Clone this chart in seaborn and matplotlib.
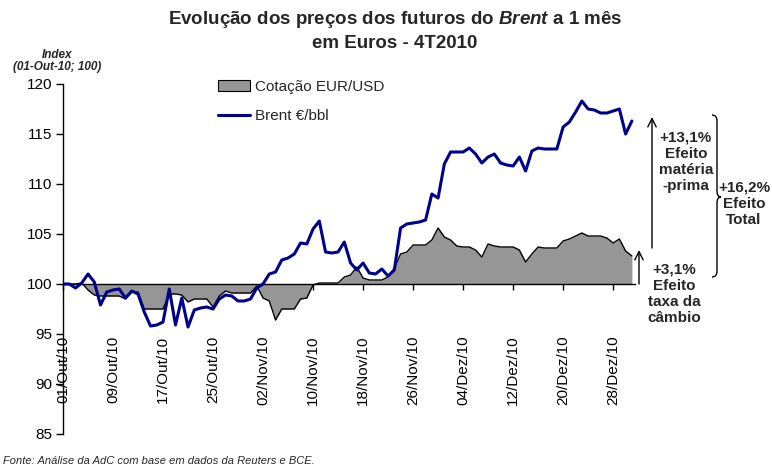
import numpy as np
import pandas as pd
import matplotlib
matplotlib.use("Agg")
import matplotlib.pyplot as plt
import seaborn as sns
from matplotlib.patches import Patch, PathPatch
from matplotlib.lines import Line2D
from matplotlib.path import Path

# ---------------- data (index, 01-Out-10 = 100), daily readings ----------------
start_date = "2010-10-01"
end_date = "2010-12-31"

brent_eur = [
    100.0, 100.0, 99.6, 100.1, 101.0, 100.2, 97.9, 99.2, 99.4, 99.5,
    98.6, 99.3, 99.0, 97.2, 95.8, 95.9, 96.2, 99.5, 95.9, 98.6,
    95.7, 97.4, 97.6, 97.7, 97.5, 98.5, 98.9, 98.8, 98.3, 98.3,
    98.5, 99.6, 100.0, 101.0, 101.2, 102.4, 102.6, 103.0, 104.1, 104.0,
    105.5, 106.3, 103.2, 103.1, 103.2, 104.2, 102.1, 101.4, 102.1, 101.1,
    101.0, 101.5, 100.8, 101.4, 105.6, 106.0, 106.1, 106.2, 106.4, 109.0,
    108.6, 112.0, 113.2, 113.2, 113.2, 113.6, 113.0, 112.1, 112.7, 113.0,
    112.1, 111.9, 111.8, 112.7, 111.3, 113.3, 113.6, 113.5, 113.5, 113.5,
    115.7, 116.2, 117.2, 118.3, 117.5, 117.4, 117.1, 117.1, 117.3, 117.5,
    115.0, 116.3,
]

eurusd_effect = [
    100.0, 100.0, 100.0, 100.1, 99.4, 98.9, 98.8, 98.8, 98.8, 98.8,
    98.5, 99.2, 99.2, 97.5, 97.5, 97.5, 97.5, 99.0, 99.0, 98.9,
    98.2, 98.5, 98.5, 98.5, 97.7, 98.8, 99.3, 99.1, 99.1, 99.1,
    99.1, 99.8, 98.6, 98.3, 96.4, 97.5, 97.5, 97.5, 98.5, 98.6,
    99.9, 100.1, 100.1, 100.1, 100.1, 100.7, 100.9, 101.7, 100.6, 100.4,
    100.4, 100.4, 100.7, 101.6, 103.0, 103.2, 103.9, 103.9, 103.9, 104.4,
    105.6, 104.7, 104.4, 103.8, 103.7, 103.7, 103.4, 102.7, 104.0, 103.8,
    103.7, 103.7, 103.7, 103.4, 102.2, 103.0, 103.7, 103.6, 103.6, 103.6,
    104.3, 104.5, 104.8, 105.1, 104.8, 104.8, 104.8, 104.6, 104.1, 104.5,
    103.3, 102.8,
]

series_names = ["Cotação EUR/USD", "Brent €/bbl"]
tick_labels = ["01/Out/10", "09/Out/10", "17/Out/10", "25/Out/10",
               "02/Nov/10", "10/Nov/10", "18/Nov/10", "26/Nov/10",
               "04/Dez/10", "12/Dez/10", "20/Dez/10", "28/Dez/10"]
y_ticks = [85, 90, 95, 100, 105, 110, 115, 120]

title_line1 = "Evolução dos preços dos futuros do $Brent$ a 1 mês"
title_line2 = "em Euros - 4T2010"
ylabel_1 = "Index"
ylabel_2 = "(01-Out-10; 100)"
source = "Fonte: Análise da AdC com base em dados da Reuters e BCE."
txt_raw = "+13,1%\nEfeito\nmatéria\n-prima"
txt_fx = "+3,1%\nEfeito\ntaxa da\ncâmbio"
txt_total = "+16,2%\nEfeito\nTotal"

# ---------------- style ----------------
sns.set_style("white")
plt.rcParams["font.family"] = ["Liberation Sans", "DejaVu Sans"]
plt.rcParams["mathtext.fontset"] = "custom"
plt.rcParams["mathtext.it"] = "Liberation Sans:italic:bold"
plt.rcParams["mathtext.rm"] = "Liberation Sans:bold"

GRAY = "#969696"
BLUE = "#00008B"
W, H = 772, 468


def fp(px, py):
    return (px / W, 1 - py / H)


fig = plt.figure(figsize=(W / 100, H / 100), dpi=100)
ax = fig.add_axes([63 / W, 1 - 434 / H, (635 - 63) / W, 350 / H])

dates = pd.date_range(start_date, end_date, freq="D")
df = pd.DataFrame({"date": dates, "brent": brent_eur, "fx": eurusd_effect})

ax.fill_between(df["date"], df["fx"], 100, color=GRAY, lw=0, zorder=1)
sns.lineplot(data=df, x="date", y="fx", color="black", linewidth=1.0, ax=ax, zorder=2)
sns.lineplot(data=df, x="date", y="brent", color=BLUE, linewidth=2.2, ax=ax, zorder=3)

ax.set_xlim(dates[0], dates[0] + pd.Timedelta(days=91.5))
ax.set_ylim(85, 120)
ax.set_yticks(y_ticks)
ax.set_xticks(dates[::8])
ax.set_xticklabels(tick_labels)
ax.set_xlabel("")
ax.set_ylabel("")

for s in ["top", "right"]:
    ax.spines[s].set_visible(False)
ax.spines["bottom"].set_position(("data", 100))
ax.spines["bottom"].set_zorder(2.5)
for s in ["left", "bottom"]:
    ax.spines[s].set_color("black")
    ax.spines[s].set_linewidth(1.0)

ax.tick_params(axis="x", bottom=True, direction="out", length=4, width=1,
               pad=33, labelsize=11, colors="black", labelrotation=90)
ax.tick_params(axis="y", left=True, direction="out", length=5, width=1,
               pad=3, labelsize=11, colors="black")
for lab in ax.get_xticklabels():
    lab.set_verticalalignment("top")
ax.grid(False)

# legend
handles = [Patch(facecolor=GRAY, edgecolor="black", linewidth=0.8),
           Line2D([], [], color=BLUE, linewidth=2.2)]
fig.legend(handles, series_names, loc="upper left", bbox_to_anchor=fp(218, 80),
           frameon=False, fontsize=11, handlelength=2.1, handletextpad=0.35,
           labelspacing=1.0, borderpad=0, borderaxespad=0)

# titles / labels
fig.text(*fp(395, 19), title_line1, ha="center", va="center", fontsize=13.5, fontweight="bold")
fig.text(*fp(395, 43), title_line2, ha="center", va="center", fontsize=13.5, fontweight="bold")
fig.text(*fp(57, 55), ylabel_1, ha="center", va="center", fontsize=8.5,
         fontweight="bold", style="italic")
fig.text(*fp(57, 67.5), ylabel_2, ha="center", va="center", fontsize=8.5,
         fontweight="bold", style="italic")
fig.text(*fp(3, 461), source, ha="left", va="center", fontsize=8, style="italic")

# arrows
arrow_kw = dict(arrowstyle="->,head_length=0.6,head_width=0.3", lw=1, color="black",
                shrinkA=0, shrinkB=0)
ax.annotate("", xy=fp(652, 117), xytext=fp(652, 248), xycoords="figure fraction",
            textcoords="figure fraction", arrowprops=arrow_kw, annotation_clip=False)
ax.annotate("", xy=fp(639, 250), xytext=fp(639, 284), xycoords="figure fraction",
            textcoords="figure fraction", arrowprops=arrow_kw, annotation_clip=False)

# brace
verts_px = [(712, 115), (717, 115), (717, 121), (717, 191), (717, 197), (721, 197),
            (717, 197), (717, 203), (717, 271), (717, 277), (712, 277)]
codes = [Path.MOVETO, Path.CURVE3, Path.CURVE3, Path.LINETO, Path.CURVE3, Path.CURVE3,
         Path.CURVE3, Path.CURVE3, Path.LINETO, Path.CURVE3, Path.CURVE3]
brace = PathPatch(Path([fp(x, y) for x, y in verts_px], codes), fill=False, lw=1,
                  edgecolor="black", transform=fig.transFigure)
fig.add_artist(brace)

txt_kw = dict(ha="center", va="center", fontsize=11, fontweight="bold",
              linespacing=1.2, multialignment="center")
fig.text(*fp(686, 162), txt_raw, **txt_kw)
fig.text(*fp(674, 294), txt_fx, **txt_kw)
fig.text(*fp(744, 204), txt_total, **txt_kw)

fig.savefig("out.png", dpi=100)
